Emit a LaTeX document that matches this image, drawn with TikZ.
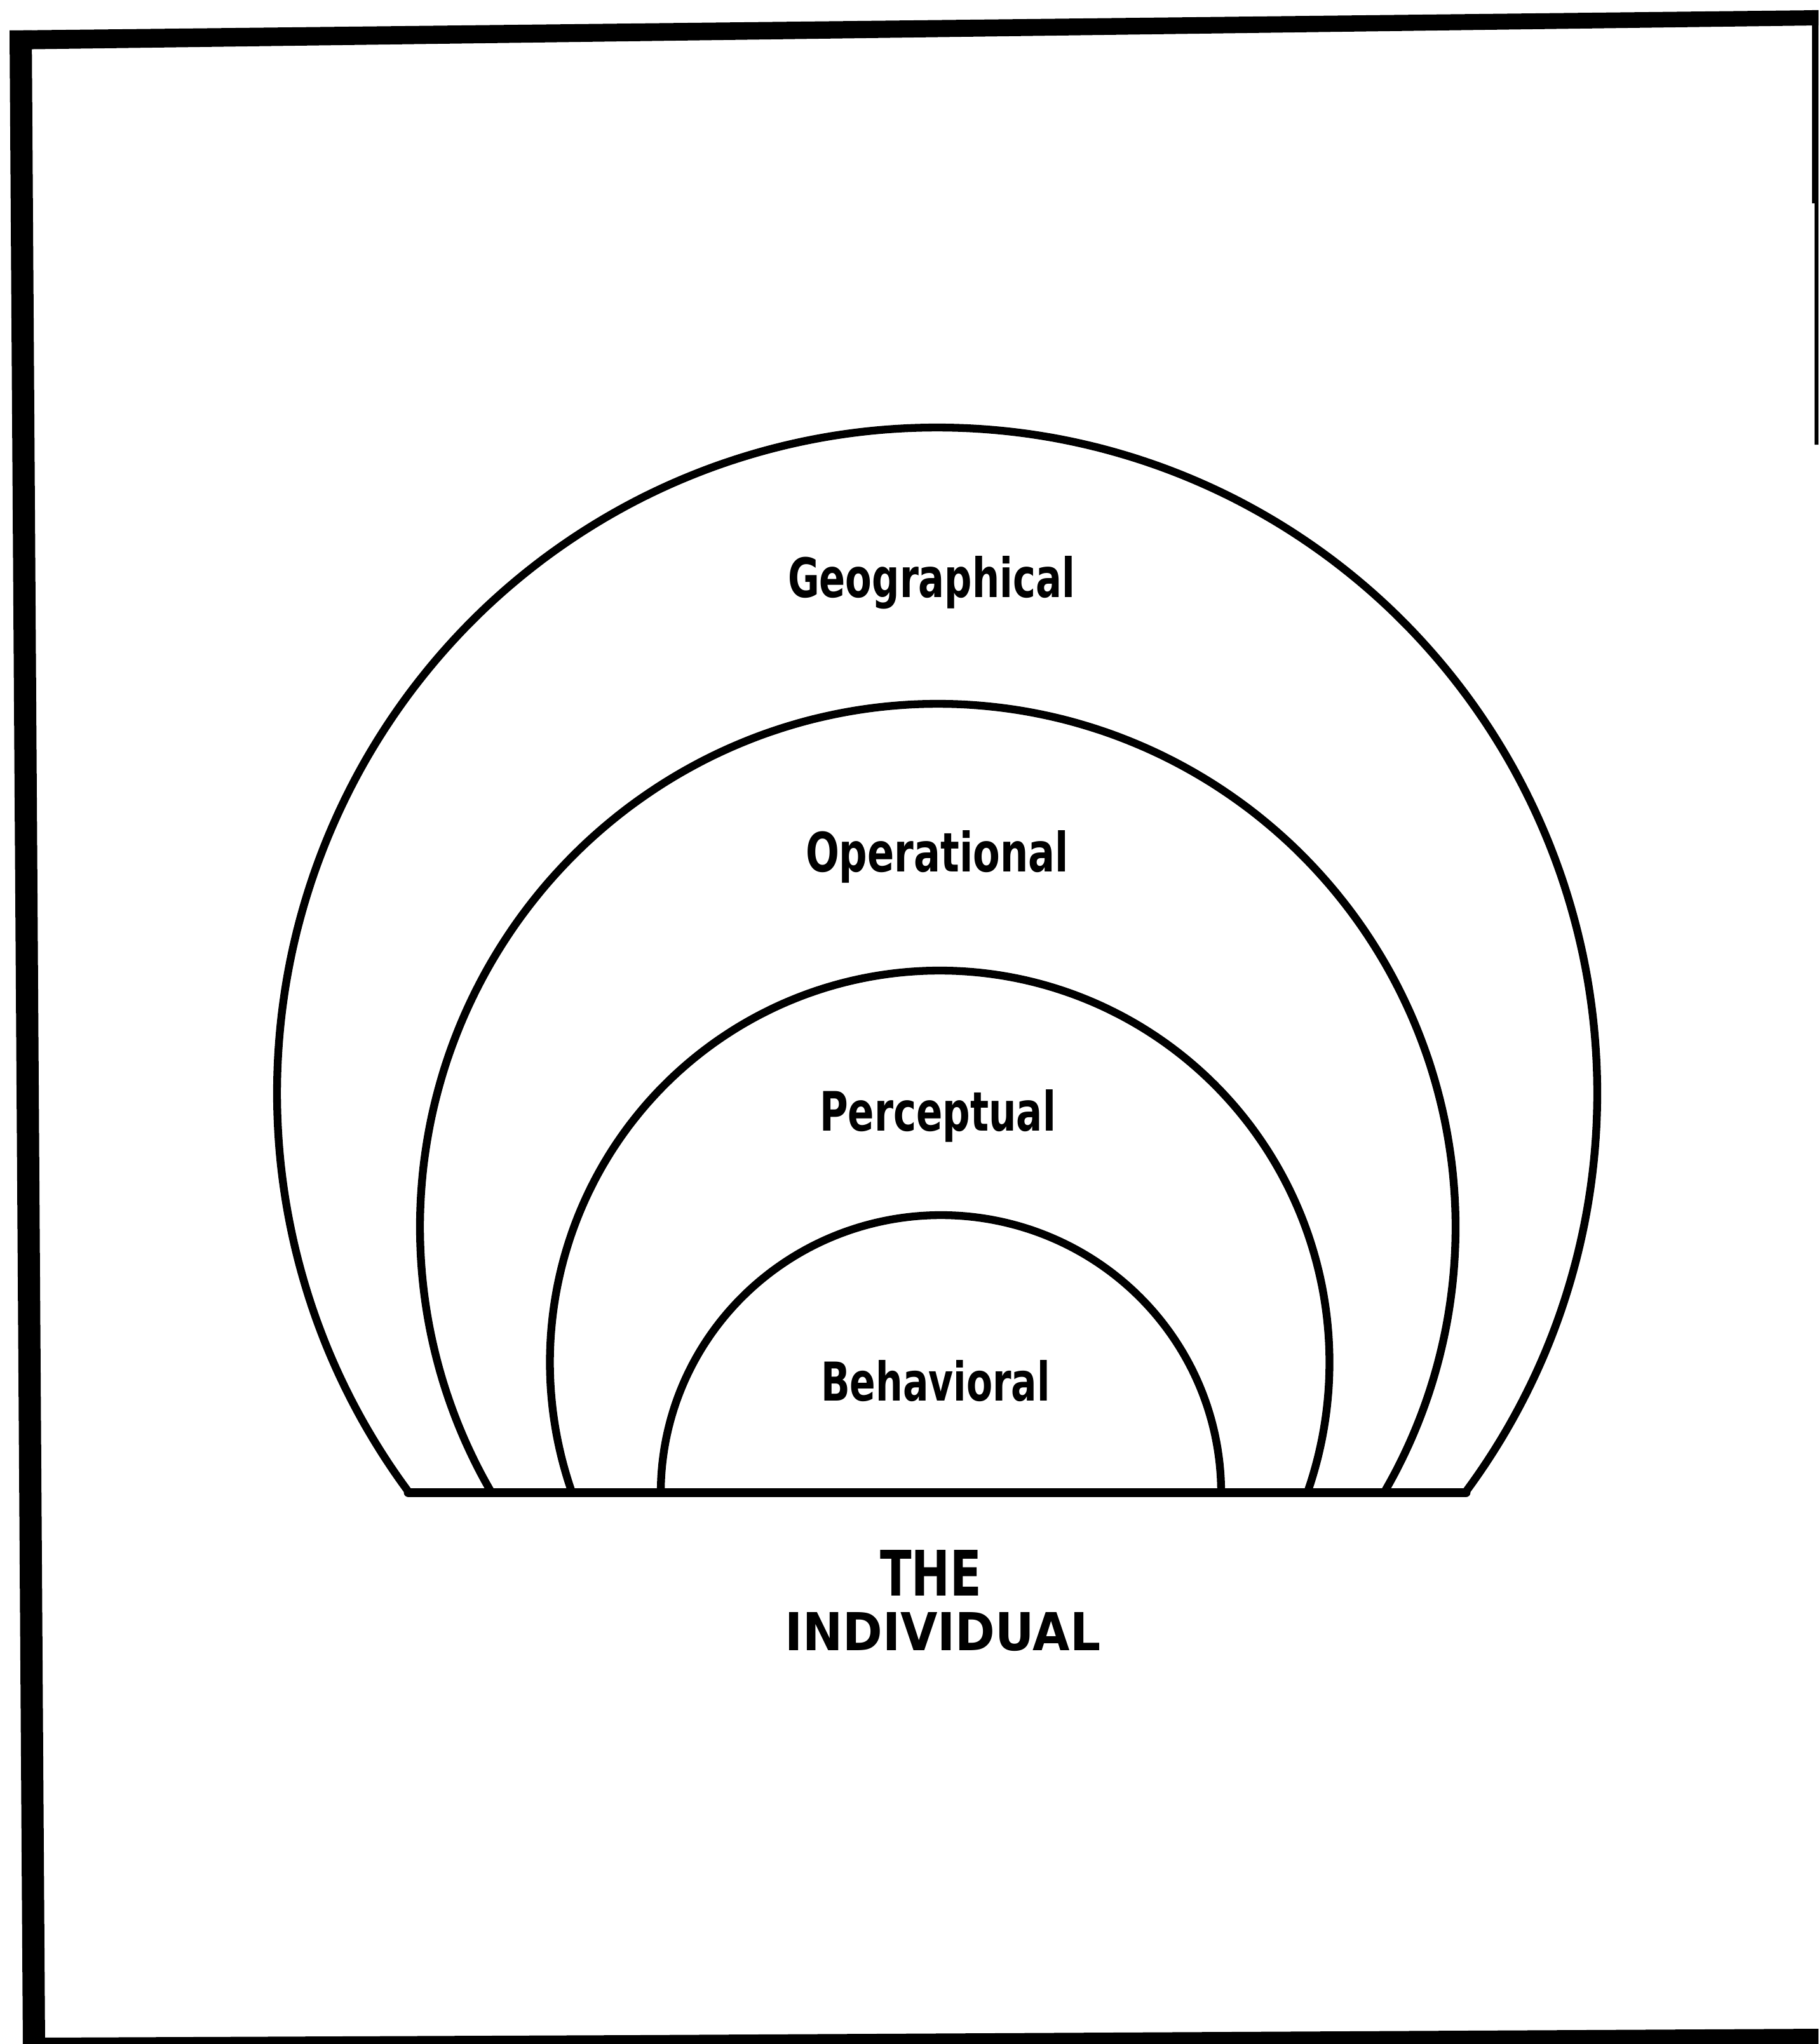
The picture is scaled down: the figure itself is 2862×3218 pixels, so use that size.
\documentclass[tikz,border=0pt]{standalone}
\usepackage{fontspec}
\setmainfont{DejaVu Sans}
\usepackage{graphicx}
\newlength\unitlen
\setlength\unitlen{0.01cm}
\newcommand{\fitlabel}[3]{\resizebox{#1\unitlen}{#2\unitlen}{\bfseries #3}}
\begin{document}
\begin{tikzpicture}[x=0.01cm, y=-0.01cm,
  arcline/.style={line width=3.5pt, line join=round, line cap=round},
  baserule/.style={line width=4.2pt, line cap=round},
  framepart/.style={fill=black, draw=none},
  lbl/.style={inner sep=0pt, outer sep=0pt, anchor=base west}]
\useasboundingbox (0,0) rectangle (2862,3218);
\fill[white] (0,0) rectangle (2862,3218);
% frame (scanned border)
\fill[framepart] (15,48) -- (2862,16) -- (2862,40) -- (15,78) -- cycle;
\fill[framepart] (15,48) -- (50,48) -- (71,3218) -- (36,3218) -- cycle;
\fill[framepart] (60,3208) -- (1000,3204) -- (2862,3194) -- (2862,3218) -- (60,3218) -- cycle;
\fill[framepart] (2852,16) -- (2862,16) -- (2862,700) -- (2856,700) -- (2856,320) -- (2852,320) -- cycle;
% feet of the outer arc
\coordinate (gL) at (643,2350);
\coordinate (gR) at (2307,2350);
% arcs
\draw[arcline] plot[domain=143.2:396.8, samples=240, smooth] ({1475+1039*cos(\x)}, {1721+1048*sin(\x)});
\draw[arcline] plot[domain=149.6:390.4, samples=200, smooth] ({1476+815*cos(\x)}, {1932+824*sin(\x)});
\draw[arcline] plot[domain=160.7:379.3, samples=160, smooth] ({1479+613.5*cos(\x)}, {2145+617*sin(\x)});
\draw[arcline] plot[domain=180:360, samples=120, smooth] ({1481+441*cos(\x)}, {2350+437*sin(\x)});
% base
\draw[baserule] (gL) -- (gR);
% labels
\node[lbl] (geo) at (1240,940) {\fitlabel{452}{65}{Geographical}};
\node[lbl] (ope) at (1268,1372) {\fitlabel{414}{65}{Operational}};
\node[lbl] (per) at (1290,1780) {\fitlabel{372}{65}{Perceptual}};
\node[lbl] (beh) at (1292,2205) {\fitlabel{361}{64}{Behavioral}};
\node[lbl] (the) at (1385,2512) {\fitlabel{160}{72}{THE}};
\node[lbl] (ind) at (1235,2598) {\fitlabel{497}{60}{INDIVIDUAL}};
\end{tikzpicture}
\end{document}
